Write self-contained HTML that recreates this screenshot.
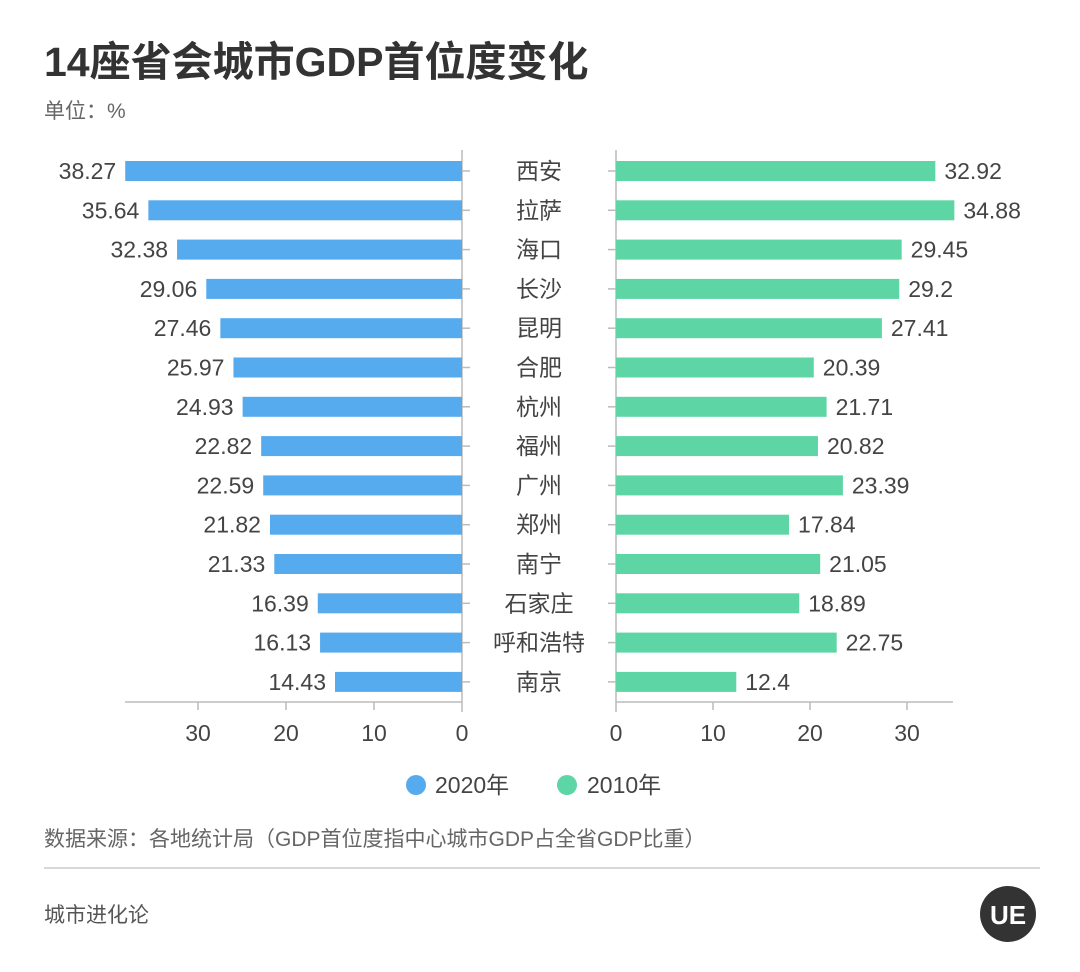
<!DOCTYPE html>
<html><head><meta charset="utf-8"><style>
html,body{margin:0;padding:0;background:#fff;}
svg{display:block;font-family:"Liberation Sans","Noto Sans CJK SC",sans-serif;}
</style></head><body>
<svg width="1080" height="972" viewBox="0 0 1080 972">
<text x="44" y="76" font-size="41" font-weight="bold" fill="#333">14座省会城市GDP首位度变化</text>
<text x="44" y="118" font-size="21" fill="#666">单位：%</text>
<g font-size="23" fill="#444">
<line x1="462" y1="150" x2="462" y2="712" stroke="#bbb" stroke-width="1.5"/>
<line x1="125" y1="702" x2="462" y2="702" stroke="#bbb" stroke-width="1.5"/>
<line x1="616" y1="150" x2="616" y2="712" stroke="#bbb" stroke-width="1.5"/>
<line x1="616" y1="702" x2="953" y2="702" stroke="#bbb" stroke-width="1.5"/>
<g stroke="#bbb" stroke-width="1.5">
<line x1="198" y1="702" x2="198" y2="710"/><line x1="286" y1="702" x2="286" y2="710"/><line x1="374" y1="702" x2="374" y2="710"/>
<line x1="713" y1="702" x2="713" y2="710"/><line x1="810" y1="702" x2="810" y2="710"/><line x1="907" y1="702" x2="907" y2="710"/>
</g>
<g text-anchor="middle">
<text x="198" y="741">30</text><text x="286" y="741">20</text><text x="374" y="741">10</text><text x="462" y="741">0</text>
<text x="616" y="741">0</text><text x="713" y="741">10</text><text x="810" y="741">20</text><text x="907" y="741">30</text>
</g>
<g id="rows"></g>
</g>
<circle cx="416" cy="785" r="10" fill="#56aaee"/><text x="435" y="793" font-size="23" fill="#444">2020年</text>
<circle cx="567" cy="785" r="10" fill="#5dd5a5"/><text x="587" y="793" font-size="23" fill="#444">2010年</text>
<text x="44" y="846" font-size="21" fill="#666">数据来源：各地统计局（GDP首位度指中心城市GDP占全省GDP比重）</text>
<line x1="44" y1="868" x2="1040" y2="868" stroke="#ccc" stroke-width="1.5"/>
<text x="44" y="922" font-size="21" fill="#555">城市进化论</text>
<circle cx="1008" cy="914" r="28" fill="#333"/>
<text x="1008" y="924" font-size="26" font-weight="bold" fill="#fff" text-anchor="middle">UE</text>
</svg>
<script>
var d=[["西安",38.27,32.92],["拉萨",35.64,34.88],["海口",32.38,29.45],["长沙",29.06,29.2],["昆明",27.46,27.41],["合肥",25.97,20.39],["杭州",24.93,21.71],["福州",22.82,20.82],["广州",22.59,23.39],["郑州",21.82,17.84],["南宁",21.33,21.05],["石家庄",16.39,18.89],["呼和浩特",16.13,22.75],["南京",14.43,12.4]];
var s="";
d.forEach(function(r,i){var y=171+i*39.3;var lw=r[1]*8.8,rw=r[2]*9.7;
s+='<rect x="'+(462-lw)+'" y="'+(y-10)+'" width="'+lw+'" height="20" fill="#56aaee"/>';
s+='<rect x="616" y="'+(y-10)+'" width="'+rw+'" height="20" fill="#5dd5a5"/>';
s+='<line x1="462" y1="'+y+'" x2="470" y2="'+y+'" stroke="#bbb" stroke-width="1.5"/>';
s+='<line x1="608" y1="'+y+'" x2="616" y2="'+y+'" stroke="#bbb" stroke-width="1.5"/>';
s+='<text x="'+(462-lw-9)+'" y="'+(y+8)+'" text-anchor="end">'+r[1]+'</text>';
s+='<text x="'+(616+rw+9)+'" y="'+(y+8)+'">'+r[2]+'</text>';
s+='<text x="539" y="'+(y+8)+'" text-anchor="middle">'+r[0]+'</text>';});
document.getElementById("rows").innerHTML=s;
</script>
</body></html>
